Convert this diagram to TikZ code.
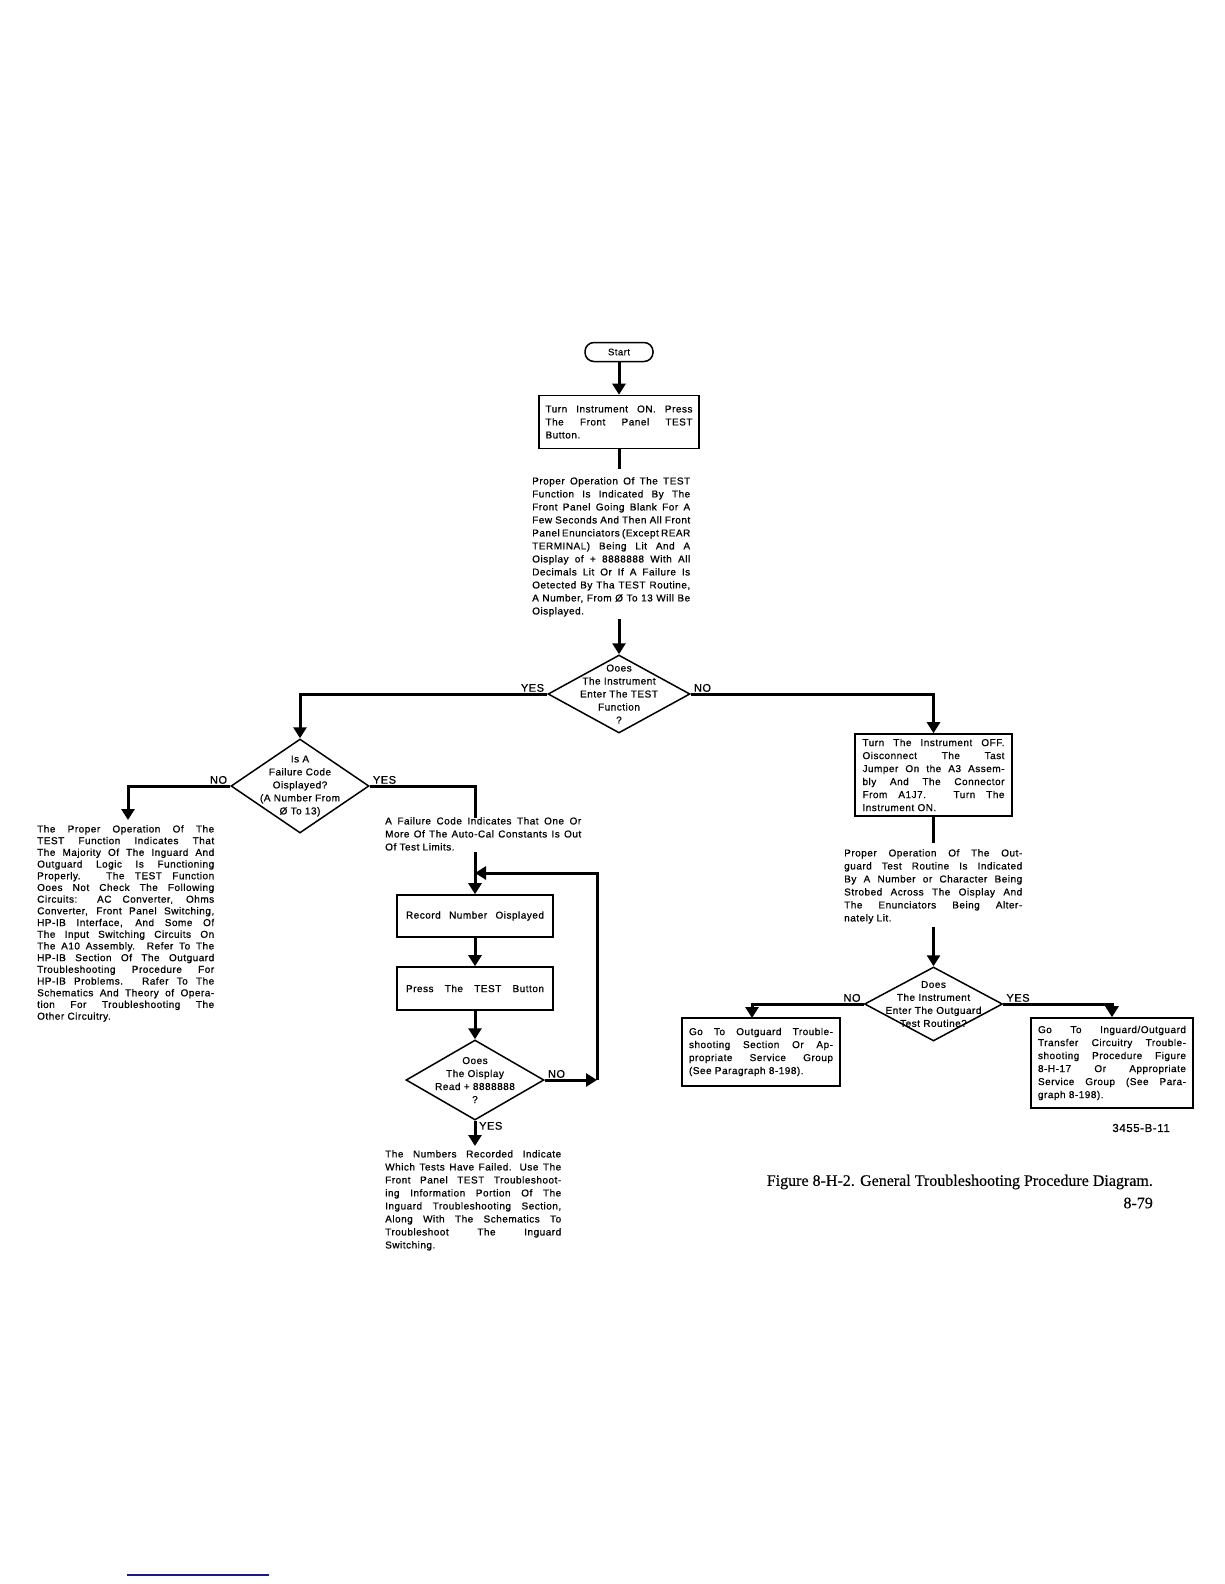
\documentclass[tikz,border=0pt]{standalone}
\usepackage{fontspec}
\setmainfont{Liberation Sans}
\newfontfamily\tf[LetterSpace=5,FakeBold=0.7]{Liberation Sans}
\newfontfamily\capf[FakeBold=0.3]{Liberation Serif}
\usetikzlibrary{arrows.meta,shapes.geometric}
\newcommand\J[2]{\makebox[#1pt][s]{#2}}
\newcommand\tfs{\tf\fontsize{10}{13}\selectfont}
\newcommand\tfl{\tf\fontsize{10}{11.7}\selectfont}
\newcommand\tflab{\tf\fontsize{11}{12}\selectfont}
\definecolor{blueline}{RGB}{25,25,135}
\begin{document}
\begin{tikzpicture}[x=1pt,y=-1pt,
 conn/.style={line width=3pt,-{Triangle[width=13pt,length=11pt]}},
 ln/.style={line width=3pt},
 box/.style={draw,line width=1.6pt,inner sep=0pt,align=left,font=\tfs},
 dia/.style={draw,diamond,line width=1.5pt,inner sep=0pt},
 dl/.style={align=center,font=\tfs,inner sep=0pt},
 txt/.style={anchor=north west,inner sep=0pt,align=left,font=\tfs},
 lab/.style={inner sep=0pt,font=\tflab},
 term/.style={draw,line width=1.5pt,rounded corners=9pt,minimum width=68pt,minimum height=19pt,inner sep=0pt,font=\tf\fontsize{9.5}{11}\selectfont}]
\fill[white] (0,0) rectangle (1224,1584);
\useasboundingbox (0,0) rectangle (1224,1584);

% top column
\node[term] (start) at (619,352) {Start};
\node[box,minimum width=160pt,minimum height=53pt] (b1) at (619,422)
 {\J{147}{Turn Instrument ON. Press}\\ \J{147}{The Front Panel TEST}\\ Button.};
\draw[conn] (start) -- (b1);
\coordinate (t1in) at (619,469);
\draw[ln] (b1.south) -- (t1in);
\node[txt] (t1) at (532,477) {\J{158}{Proper Operation Of The TEST}\\
 \J{158}{Function Is Indicated By The}\\
 \J{158}{Front Panel Going Blank For A}\\
 \J{158}{Few Seconds And Then All Front}\\
 \J{158}{Panel Enunciators (Except REAR}\\
 \J{158}{TERMINAL) Being Lit And A}\\
 \J{158}{Oisplay of + 8888888 With All}\\
 \J{158}{Decimals Lit Or If A Failure Is}\\
 \J{158}{Oetected By Tha TEST Routine,}\\
 \J{158}{A Number, From Ø To 13 Will Be}\\
 Oisplayed.};
\coordinate (t1out) at (619,619);
\node[dia,minimum width=142pt,minimum height=78pt,
 label={[dl]center:Ooes\\The Instrument\\Enter The TEST\\Function\\?}] (d1) at (619,694) {};
\draw[conn] (t1out) -- (d1.north);
\node[lab,anchor=south east] at ([xshift=-3pt,yshift=2pt]d1.west) {YES};
\node[lab,anchor=south west] at ([xshift=3pt,yshift=2pt]d1.east) {NO};

% left branch
\node[dia,minimum width=138pt,minimum height=94pt,
 label={[dl]center:Is A\\Failure Code\\Oisplayed?\\(A Number From\\Ø To 13)}] (d2) at (300,786) {};
\draw[conn] (d1.west) -| (d2.north);
\node[lab,anchor=south east] at ([xshift=-3pt,yshift=2pt]d2.west) {NO};
\node[lab,anchor=south west] at ([xshift=3pt,yshift=2pt]d2.east) {YES};
\coordinate (ltin) at (128,820);
\draw[conn] (d2.west) -| (ltin);
\node[txt,font=\tfl] (lt) at (37,825) {\J{177}{The Proper Operation Of The}\\
 \J{177}{TEST Function Indicates That}\\
 \J{177}{The Majority Of The Inguard And}\\
 \J{177}{Outguard Logic Is Functioning}\\
 \J{177}{Properly. The TEST Function}\\
 \J{177}{Ooes Not Check The Following}\\
 \J{177}{Circuits: AC Converter, Ohms}\\
 \J{177}{Converter, Front Panel Switching,}\\
 \J{177}{HP-IB Interface, And Some Of}\\
 \J{177}{The Input Switching Circuits On}\\
 \J{177}{The A10 Assembly. Refer To The}\\
 \J{177}{HP-IB Section Of The Outguard}\\
 \J{177}{Troubleshooting Procedure For}\\
 \J{177}{HP-IB Problems. Rafer To The}\\
 \J{177}{Schematics And Theory of Opera-}\\
 \J{177}{tion For Troubleshooting The}\\
 Other Circuitry.};

% middle loop
\coordinate (mtin) at (475,818);
\draw[ln] (d2.east) -| (mtin);
\node[txt] (mt) at (385,817) {\J{196}{A Failure Code Indicates That One Or}\\
 \J{196}{More Of The Auto-Cal Constants Is Out}\\
 Of Test Limits.};
\coordinate (mtout) at (475,852);
\node[box,minimum width=156pt,minimum height=42pt] (rec) at (475,916) {\J{138}{Record Number Oisplayed}};
\node[box,minimum width=156pt,minimum height=43pt] (press) at (475,988.5) {\J{138}{Press The TEST Button}};
\draw[conn] (mtout) -- (rec.north);
\draw[conn] (rec) -- (press);
\node[dia,minimum width=138pt,minimum height=80pt,
 label={[dl]center:Ooes\\The Oisplay\\Read + 8888888\\?}] (d3) at (475,1080) {};
\draw[conn] (press) -- (d3.north);
\coordinate (loopR) at (597,1080);
\coordinate (loopT) at (597,873);
\coordinate (join) at (475,873);
\draw[conn] (d3.east) -- (loopR);
\draw[conn] (loopR) -- (loopT) -- (join);
\node[lab,anchor=south west] at ([xshift=3pt,yshift=2pt]d3.east) {NO};
\node[lab,anchor=north west] at ([xshift=4pt,yshift=-1pt]d3.south) {YES};
\coordinate (btin) at (475,1146);
\draw[conn] (d3.south) -- (btin);
\node[txt] (bt) at (385,1150) {\J{176}{The Numbers Recorded Indicate}\\
 \J{176}{Which Tests Have Failed. Use The}\\
 \J{176}{Front Panel TEST Troubleshoot-}\\
 \J{176}{ing Information Portion Of The}\\
 \J{176}{Inguard Troubleshooting Section,}\\
 \J{176}{Along With The Schematics To}\\
 \J{176}{Troubleshoot The Inguard}\\
 Switching.};

% right branch
\node[box,minimum width=157pt,minimum height=82pt] (r1) at (933.5,775)
 {\J{142}{Turn The Instrument OFF.}\\
 \J{142}{Oisconnect The Tast}\\
 \J{142}{Jumper On the A3 Assem-}\\
 \J{142}{bly And The Connector}\\
 \J{142}{From A1J7. Turn The}\\
 Instrument ON.};
\draw[conn] (d1.east) -| (r1.north);
\coordinate (rtin) at (933.5,843);
\draw[ln] (r1.south) -- (rtin);
\node[txt] (rt) at (844,849) {\J{178}{Proper Operation Of The Out-}\\
 \J{178}{guard Test Routine Is Indicated}\\
 \J{178}{By A Number or Character Being}\\
 \J{178}{Strobed Across The Oisplay And}\\
 \J{178}{The Enunciators Being Alter-}\\
 nately Lit.};
\coordinate (rtout) at (933.5,927);
\node[dia,minimum width=138pt,minimum height=74pt,
 label={[dl]center:Does\\The Instrument\\Enter The Outguard\\Test Routine?}] (d4) at (933.5,1004) {};
\draw[conn] (rtout) -- (d4.north);
\node[lab,anchor=south east] at ([xshift=-3pt,yshift=2pt]d4.west) {NO};
\node[lab,anchor=south west] at ([xshift=3pt,yshift=2pt]d4.east) {YES};
\node[box,minimum width=158pt,minimum height=68pt] (l2) at (761,1052)
 {\J{144}{Go To Outguard Trouble-}\\
 \J{144}{shooting Section Or Ap-}\\
 \J{144}{propriate Service Group}\\
 (See Paragraph 8-198).};
\node[box,minimum width=162pt,minimum height=90pt] (r2) at (1112,1063)
 {\J{148}{Go To Inguard/Outguard}\\
 \J{148}{Transfer Circuitry Trouble-}\\
 \J{148}{shooting Procedure Figure}\\
 \J{148}{8-H-17 Or Appropriate}\\
 \J{148}{Service Group (See Para-}\\
 graph 8-198).};
\coordinate (l2in) at (752,1018);
\draw[conn] (d4.west) -| (l2in);
\draw[conn] (d4.east) -| (r2.north);

% captions
\node[anchor=east,inner sep=0pt,font=\tf\fontsize{11.5}{13}\selectfont] (fig) at (1170,1128) {3455-B-11};
\node[anchor=east,inner sep=0pt,font=\capf\fontsize{16}{18}\selectfont] (cap) at (1153,1182) {Figure 8-H-2. General Troubleshooting Procedure Diagram.};
\node[anchor=east,inner sep=0pt,font=\capf\fontsize{16}{18}\selectfont] (pg) at (1153,1203) {8-79};
\draw[line width=1.5pt,blueline] (127,1575) -- (269,1575);
\end{tikzpicture}
\end{document}
